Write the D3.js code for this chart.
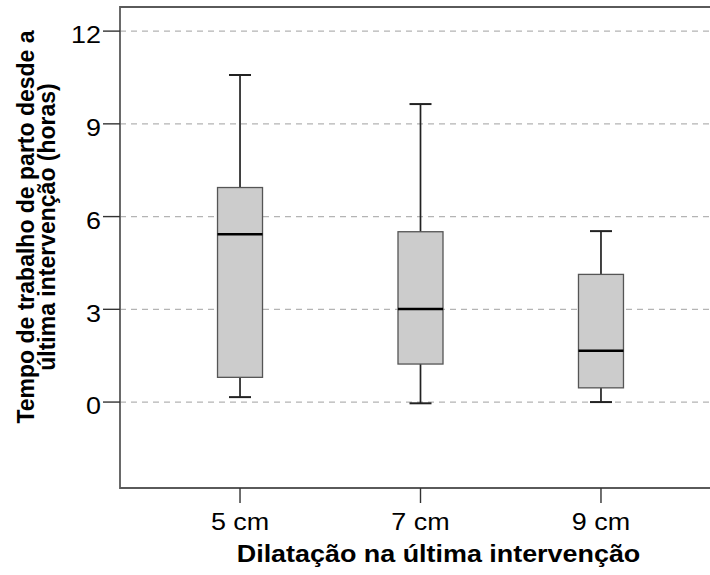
<!DOCTYPE html>
<html>
<head>
<meta charset="utf-8">
<script src="https://cdn.jsdelivr.net/npm/d3@7"></script>
<style>
  html, body { margin: 0; padding: 0; background: #fff; }
  svg { display: block; }
  text { font-family: "Liberation Sans", Arial, sans-serif; fill: #000; }
</style>
</head>
<body>
<svg id="chart" width="710" height="575"></svg>
<script>
const categories = ["5 cm", "7 cm", "9 cm"];
const whiskerLow = [0.16, -0.04, 0.0];
const q1 = [0.80, 1.23, 0.46];
const median = [5.43, 3.01, 1.66];
const q3 = [6.94, 5.51, 4.13];
const whiskerHigh = [10.58, 9.64, 5.53];
const yTicks = [0, 3, 6, 9, 12];
const xTitle = "Dilatação na última intervenção";
const yTitleLines = ["Tempo de trabalho de parto desde a", "última intervenção (horas)"];

(function () {
const data = categories.map((c, i) => ({
  cat: c, lo: whiskerLow[i], q1: q1[i], med: median[i], q3: q3[i], hi: whiskerHigh[i]
}));

const svg = d3.select("#chart");
const pLeft = 120, pRight = 721, pTop = 7, pBottom = 488;
const stretch = 1.17;

const x = d3.scalePoint().domain(categories).range([pLeft, pRight]).padding(0.665);
const y = d3.scaleLinear().domain([-2.78, 12.78]).range([pBottom, pTop]);
const boxW = 45, capW = 22;

// grid lines
svg.append("g").selectAll("line").data(yTicks).join("line")
  .attr("x1", pLeft).attr("x2", 710)
  .attr("y1", d => y(d)).attr("y2", d => y(d))
  .attr("stroke", "#b4b4b4").attr("stroke-width", 1.2)
  .attr("stroke-dasharray", "6,5");

// boxes
const g = svg.append("g").selectAll("g").data(data).join("g");
g.append("line")
  .attr("x1", d => x(d.cat)).attr("x2", d => x(d.cat))
  .attr("y1", d => y(d.hi)).attr("y2", d => y(d.q3))
  .attr("stroke", "#222").attr("stroke-width", 1.7);
g.append("line")
  .attr("x1", d => x(d.cat)).attr("x2", d => x(d.cat))
  .attr("y1", d => y(d.q1)).attr("y2", d => y(d.lo))
  .attr("stroke", "#222").attr("stroke-width", 1.7);
g.append("line")
  .attr("x1", d => x(d.cat) - capW / 2).attr("x2", d => x(d.cat) + capW / 2)
  .attr("y1", d => y(d.hi)).attr("y2", d => y(d.hi))
  .attr("stroke", "#222").attr("stroke-width", 2);
g.append("line")
  .attr("x1", d => x(d.cat) - capW / 2).attr("x2", d => x(d.cat) + capW / 2)
  .attr("y1", d => y(d.lo)).attr("y2", d => y(d.lo))
  .attr("stroke", "#222").attr("stroke-width", 2);
g.append("rect")
  .attr("x", d => x(d.cat) - boxW / 2).attr("width", boxW)
  .attr("y", d => y(d.q3)).attr("height", d => y(d.q1) - y(d.q3))
  .attr("fill", "#cccccc").attr("stroke", "#555").attr("stroke-width", 1.3);
g.append("line")
  .attr("x1", d => x(d.cat) - boxW / 2).attr("x2", d => x(d.cat) + boxW / 2)
  .attr("y1", d => y(d.med)).attr("y2", d => y(d.med))
  .attr("stroke", "#000").attr("stroke-width", 2.6);

// frame
svg.append("path")
  .attr("d", `M710,${pTop}H${pLeft}V${pBottom}H710`)
  .attr("fill", "none").attr("stroke", "#5a5a5a").attr("stroke-width", 1.8);

// y ticks
const yt = svg.append("g").selectAll("g").data(yTicks).join("g");
yt.append("line").attr("x1", 103).attr("x2", pLeft)
  .attr("y1", d => y(d)).attr("y2", d => y(d))
  .attr("stroke", "#333").attr("stroke-width", 1.4);
yt.append("text")
  .attr("transform", d => `translate(101,${y(d) + 12.3}) scale(${stretch},1)`)
  .attr("text-anchor", "end")
  .style("font-size", "23px")
  .text(d => d);

// x ticks
const xt = svg.append("g").selectAll("g").data(categories).join("g");
xt.append("line").attr("x1", d => x(d)).attr("x2", d => x(d))
  .attr("y1", pBottom).attr("y2", pBottom + 15)
  .attr("stroke", "#333").attr("stroke-width", 1.4);
xt.append("text")
  .attr("transform", d => `translate(${x(d)},530) scale(${stretch},1)`)
  .attr("text-anchor", "middle")
  .style("font-size", "23px")
  .text(d => d);

// x title
svg.append("text")
  .attr("transform", `translate(438.5,561.5) scale(${stretch},1)`)
  .attr("text-anchor", "middle")
  .style("font-size", "23px").style("font-weight", "bold")
  .text(xTitle);

// y title
svg.append("g").selectAll("text").data(yTitleLines).join("text")
  .attr("transform", (d, i) => `translate(${34 + i * 21},227) scale(1.05,1) rotate(-90)`)
  .attr("text-anchor", "middle")
  .style("font-size", "23px").style("font-weight", "bold")
  .text(d => d);
})();
</script>
</body>
</html>
